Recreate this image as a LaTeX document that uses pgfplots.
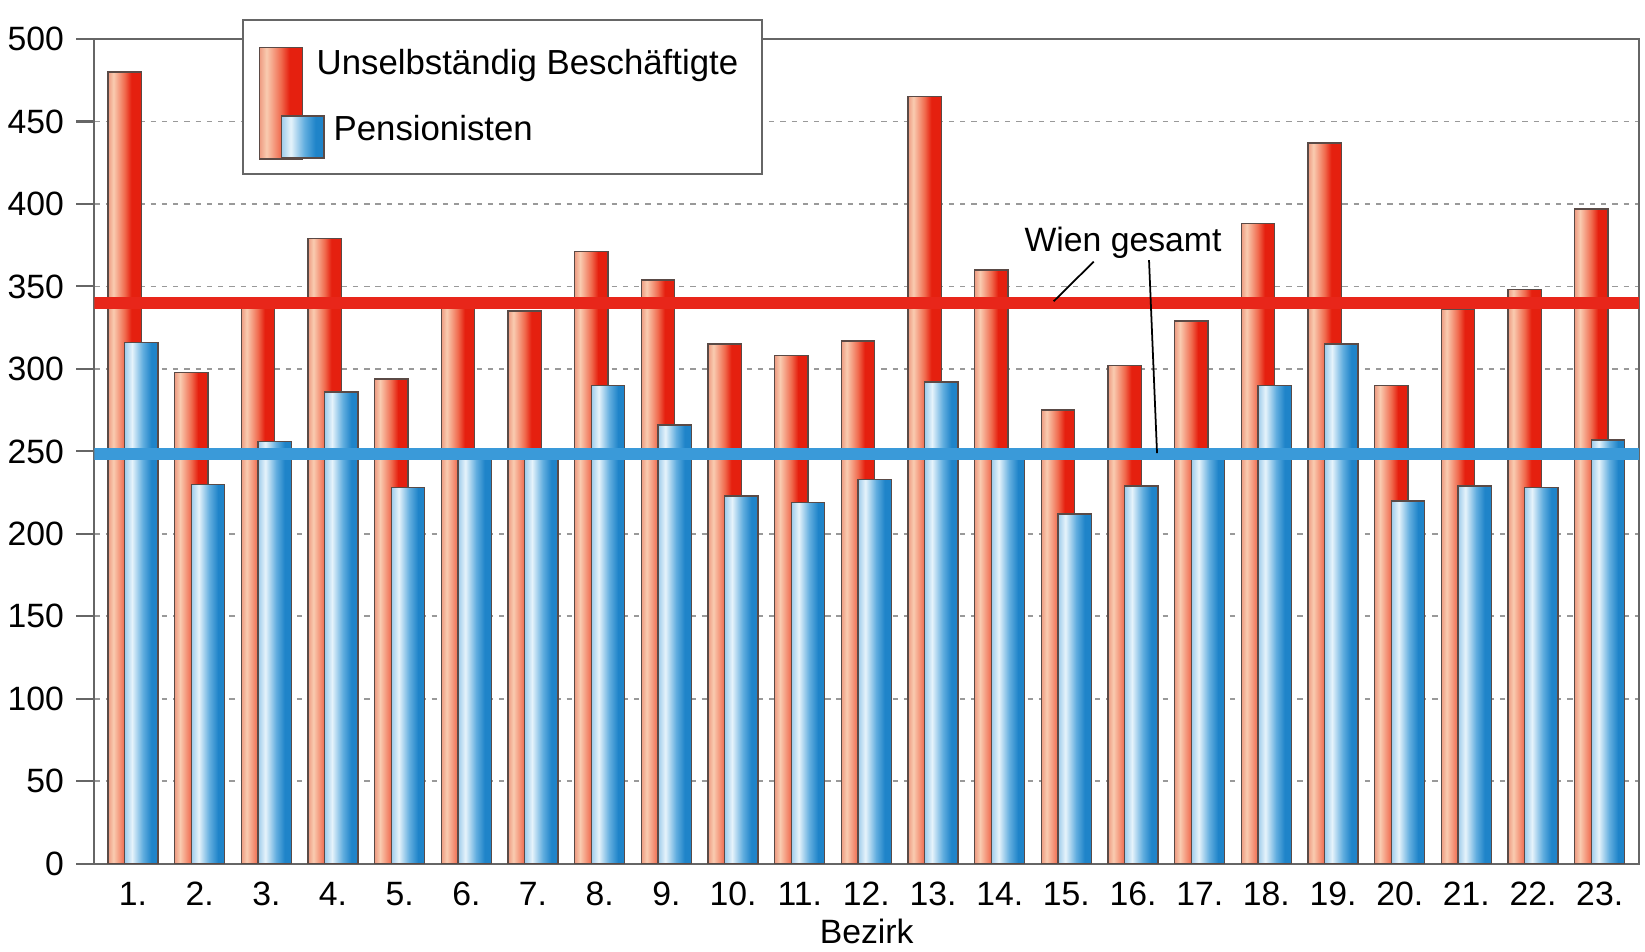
\documentclass[border=0pt]{standalone}
\usepackage{fontspec}
\setmainfont{Liberation Sans}
\usepackage{pgfplots}
\usepackage{pgfplotstable}
\pgfplotsset{compat=1.18}

\definecolor{redA}{HTML}{EE9C82}
\definecolor{redB}{HTML}{F9CBB0}
\definecolor{redC}{HTML}{F06A4E}
\definecolor{redD}{HTML}{E5200F}
\definecolor{bluA}{HTML}{9ECCEB}
\definecolor{bluB}{HTML}{E6F3FB}
\definecolor{bluC}{HTML}{62AEDF}
\definecolor{bluD}{HTML}{1F84C9}
\definecolor{wienRed}{HTML}{E8261A}
\definecolor{wienBlue}{HTML}{3A9AD9}
\definecolor{barEdge}{HTML}{5A4A46}

% gradients run left to right across each bar (25bp..75bp = bar edges)
\pgfdeclarehorizontalshading{redbar}{100bp}{color(0bp)=(redA); color(25bp)=(redA); color(33bp)=(redB); color(50bp)=(redC); color(60bp)=(redD); color(100bp)=(redD)}
\pgfdeclarehorizontalshading{bluebar}{100bp}{color(0bp)=(bluA); color(25bp)=(bluA); color(36bp)=(bluB); color(52bp)=(bluC); color(65bp)=(bluD); color(100bp)=(bluD)}

\pgfplotsset{
    redbars/.style={ybar, bar width=0.5, bar shift=-0.125, forget plot,
        draw=barEdge, line width=0.4pt, shade, shading=redbar},
    bluebars/.style={ybar, bar width=0.5, bar shift=0.125, forget plot,
        draw=barEdge, line width=0.4pt, shade, shading=bluebar},
}
% invisible box that sizes a legend image
\newcommand{\legbox}{\pgfpathrectangle{\pgfpoint{0cm}{-0.1cm}}{\pgfpoint{0.5cm}{0.2cm}}\pgfusepath{discard}}

% Bezirk, unselbstaendig Beschaeftigte, Pensionisten
\pgfplotstableread{
bez arb pen
1  480 316
2  298 230
3  343 256
4  379 286
5  294 228
6  343 249
7  335 245
8  371 290
9  354 266
10 315 223
11 308 219
12 317 233
13 465 292
14 360 249
15 275 212
16 302 229
17 329 248
18 388 290
19 437 315
20 290 220
21 336 229
22 348 228
23 397 257
}\wiendata

\begin{document}
\begin{tikzpicture}
\begin{axis}[
    scale only axis,
    width=15.45cm, height=8.25cm,
    xmin=0.42, xmax=23.59,
    ymin=0, ymax=500,
    ytick={0,50,...,500},
    xtick={1,...,23},
    xticklabels={1.,2.,3.,4.,5.,6.,7.,8.,9.,10.,11.,12.,13.,14.,15.,16.,17.,18.,19.,20.,21.,22.,23.},
    xtick style={draw=none},
    ytick pos=left,
    tick align=outside,
    major tick length=0.18cm,
    ymajorgrids=true,
    grid style={black!40, dash pattern=on 1.5pt off 1.7pt, line width=0.5pt},
    axis line style={black!60, line width=0.6pt},
    ytick style={black!60, line width=0.6pt},
    ticklabel style={font=\fontsize{9.6}{11}\selectfont},
    xticklabel style={yshift=0.12cm},
    /pgf/number format/assume math mode=true,
    xlabel={Bezirk},
    label style={font=\fontsize{9.6}{11}\selectfont},
    xlabel style={yshift=0.11cm},
    legend style={
        at={(axis description cs:0.0953,1.024)}, anchor=north west,
        draw=black!60, line width=0.6pt, fill=white,
        inner xsep=0.17cm, inner ysep=0.22cm,
        row sep=6pt, cells={anchor=west},
        font=\fontsize{9.9}{12}\selectfont
    }
]
\addlegendimage{legend image code/.code={
    \legbox
    \path[overlay, draw=barEdge, line width=0.4pt, shade, shading=redbar]
        (0cm,0.17cm) rectangle (0.427cm,-0.945cm);
}}
\addlegendentry{Unselbständig Beschäftigte}
\addlegendimage{legend image code/.code={
    \legbox
    \path[overlay, draw=barEdge, line width=0.4pt, shade, shading=bluebar]
        (0.217cm,0.14cm) rectangle (0.644cm,-0.28cm);
}}
\addlegendentry{\hspace*{0.17cm}Pensionisten}

% one plot per bar, so that every bar gets its own gradient
\pgfplotsinvokeforeach{1,...,23}{
    \addplot[redbars, restrict x to domain=#1:#1] table[x=bez, y=arb] {\wiendata};
}
\pgfplotsinvokeforeach{1,...,23}{
    \addplot[bluebars, restrict x to domain=#1:#1] table[x=bez, y=pen] {\wiendata};
}

% Wien gesamt
\addplot[forget plot, wienRed, line width=3.6pt] coordinates {(0.42,340) (23.59,340)};
\addplot[forget plot, wienBlue, line width=3.4pt] coordinates {(0.42,248.5) (23.59,248.5)};

\draw[black, line width=0.5pt] (axis cs:15.41,365) -- (axis cs:14.81,341);
\draw[black, line width=0.5pt] (axis cs:16.24,366) -- (axis cs:16.36,249);
\node[anchor=base, font=\fontsize{9.6}{11}\selectfont] at (axis cs:15.85,371) {Wien gesamt};
\end{axis}
\pgfresetboundingbox
\path ([shift={(-0.944cm,-0.88cm)}]current axis.south west)
    rectangle ([shift={(0.06cm,0.39cm)}]current axis.north east);
\end{tikzpicture}
\end{document}
